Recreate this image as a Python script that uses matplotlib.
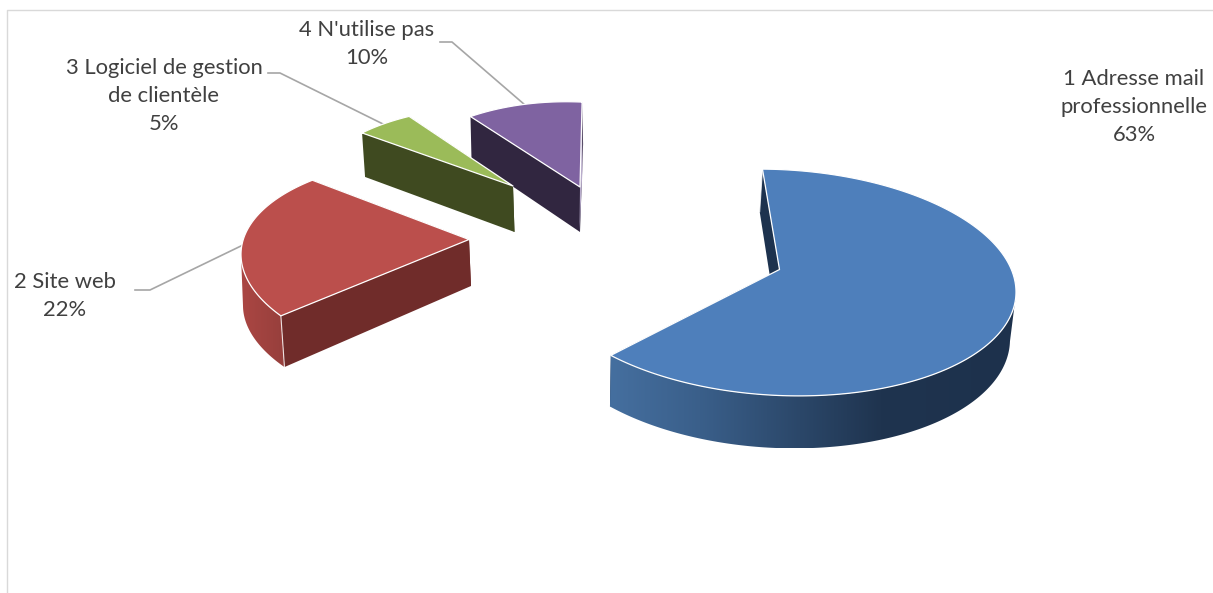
#!/usr/bin/env python3
from __future__ import annotations

import matplotlib
import numpy as np

matplotlib.use("Agg")
import matplotlib.pyplot as plt
from matplotlib.colors import to_rgb
from matplotlib.patches import Polygon

plt.rcParams["font.family"] = ["Lato", "DejaVu Sans"]

CATEGORIES = ["1 Adresse mail\nprofessionnelle", "2 Site web", "3 Logiciel de gestion\nde clientèle", "4 N'utilise pas"]
PERCENTS = [63, 22, 5, 10]

WIDTH, HEIGHT = 1213, 593
SHEAR = 0.04
TEXT_COLOR = "#404040"
LEADER_COLOR = "#a6a6a6"
FRAME_COLOR = "#d9d9d9"

# projected geometry of each exploded slice, in pixels
SLICES = [
    {
        "top": "#4e7fbb", "flat": "#1d324e",
        "apex": (779.5, 269.5), "low_apex": (776, 315),
        "center": (779, 282.5), "a": 237, "b": 113,
        "low_center": (776, 330), "low_a": 234, "low_b": 118,
        "trim": (-4.0, -1.6),
        "wall_span": (90, 360),
        "wall_x": [611, 700, 800, 880, 1016],
        "wall_c": ["#456f9f", "#3a5f8a", "#2b4769", "#1f344f", "#1d314c"],
    },
    {
        "top": "#bb4f4c", "flat": "#702c2a",
        "apex": (469, 239.5), "low_apex": (471, 286),
        "center": (469, 263.5), "a": 228, "b": 106,
        "low_center": (480, 315), "low_a": 237, "low_b": 106,
        "trim": (8.8, 10.6),
        "wall_span": (0, 270),
        "wall_x": [243, 285],
        "wall_c": ["#aa4643", "#963f3c"],
    },
    {
        "top": "#9bbb59", "flat": "#3f4a20",
        "apex": (513, 186), "low_apex": (514.5, 232),
        "center": (513, 200), "a": 200, "b": 93,
        "low_center": (516, 244), "low_a": 200, "low_b": 93,
        "trim": (5.0, 4.7),
        "wall_span": None,
    },
    {
        "top": "#7f63a1", "flat": "#312640",
        "apex": (580, 187), "low_apex": (580, 232),
        "center": (580, 218), "a": 200, "b": 116,
        "low_center": (581, 260), "low_a": 200, "low_b": 116,
        "trim": (2.8, 0.6),
        "wall_span": None,
    },
]

LABEL_POS = [(1134, 107), (65, 296), (164, 96), (367, 44)]
LEADERS = [
    None,
    [(135, 290), (150, 290), (243, 245)],
    [(268, 73), (280, 73), (385, 125)],
    [(440, 42), (452, 42), (525, 105)],
]


def rim(center, a, b, theta):
    sin_t, cos_t = np.sin(theta), np.cos(theta)
    return np.column_stack([center[0] + a * sin_t, center[1] - b * cos_t + SHEAR * a * sin_t])


def draw_wall(ax, spec, theta) -> None:
    # outer wall: horizontal gradient clipped to the strip between both rims
    lo, hi = np.radians(spec["wall_span"])
    theta = theta[(theta >= lo) & (theta <= hi)]
    upper = rim(spec["center"], spec["a"], spec["b"], theta)
    lower = rim(spec["low_center"], spec["low_a"], spec["low_b"], theta)
    outline = np.vstack([upper, lower[::-1]])
    x0, x1 = outline[:, 0].min(), outline[:, 0].max()
    y0, y1 = outline[:, 1].min(), outline[:, 1].max()
    xs = np.linspace(x0, x1, 512)
    rgb = np.array([to_rgb(c) for c in spec["wall_c"]])
    ramp = np.column_stack([np.interp(xs, spec["wall_x"], rgb[:, k]) for k in range(3)])[None, :, :]
    img = ax.imshow(ramp, extent=(x0, x1, y1, y0), aspect="auto", interpolation="bilinear", zorder=3)
    clip = Polygon(outline, closed=True, transform=ax.transData, fc="none", ec="none")
    ax.add_patch(clip)
    img.set_clip_path(clip)


def draw_slice(ax, spec, start_deg, end_deg) -> None:
    theta = np.radians(np.linspace(start_deg + spec["trim"][0], end_deg + spec["trim"][1], 240))
    upper = rim(spec["center"], spec["a"], spec["b"], theta)
    lower = rim(spec["low_center"], spec["low_a"], spec["low_b"], theta)
    apex, low_apex = spec["apex"], spec["low_apex"]

    # flat cut faces first, the top face hides whatever is behind it
    for idx in (0, -1):
        ax.add_patch(Polygon([upper[idx], apex, low_apex, lower[idx]], closed=True, fc=spec["flat"], ec="none", zorder=2))

    if spec["wall_span"] is not None:
        draw_wall(ax, spec, theta)
        # thin light seam where the wall meets the cut face
        ax.plot([upper[0, 0], lower[0, 0]], [upper[0, 1], lower[0, 1]], color="white", lw=0.8, alpha=0.8, zorder=3.5)

    face = np.vstack([[apex], upper])
    ax.add_patch(Polygon(face, closed=True, fc=spec["top"], ec="white", lw=0.9, zorder=4, joinstyle="round"))


def main() -> None:
    fig = plt.figure(figsize=(WIDTH / 100, HEIGHT / 100), dpi=100)
    ax = fig.add_axes([0, 0, 1, 1])
    ax.axis("off")

    ax.plot([7, 7, WIDTH], [HEIGHT, 10, 10], color=FRAME_COLOR, lw=1.0, zorder=1)

    edges = np.concatenate([[0.0], np.cumsum(PERCENTS)]) / sum(PERCENTS) * 360.0
    for i, spec in enumerate(SLICES):
        draw_slice(ax, spec, edges[i], edges[i + 1])

    # sliver of the purple slice's right cut, seen almost edge-on
    ax.add_patch(Polygon([(582, 102), (582.5, 170), (579.5, 232), (580, 187)], closed=True, fc="#b9adcc", ec="none", zorder=3))

    for path in LEADERS:
        if path is not None:
            ax.plot(*zip(*path), color=LEADER_COLOR, lw=1.2, zorder=1.5)

    for name, pct, pos in zip(CATEGORIES, PERCENTS, LABEL_POS):
        ax.text(pos[0], pos[1], f"{name}\n{pct}%", ha="center", va="center", fontsize=15.8, color=TEXT_COLOR, linespacing=1.47, zorder=5)

    # imshow resets the limits, so set them last
    ax.set_xlim(0, WIDTH)
    ax.set_ylim(HEIGHT, 0)

    fig.savefig("out.png", dpi=100)
    plt.close(fig)


if __name__ == "__main__":
    main()
